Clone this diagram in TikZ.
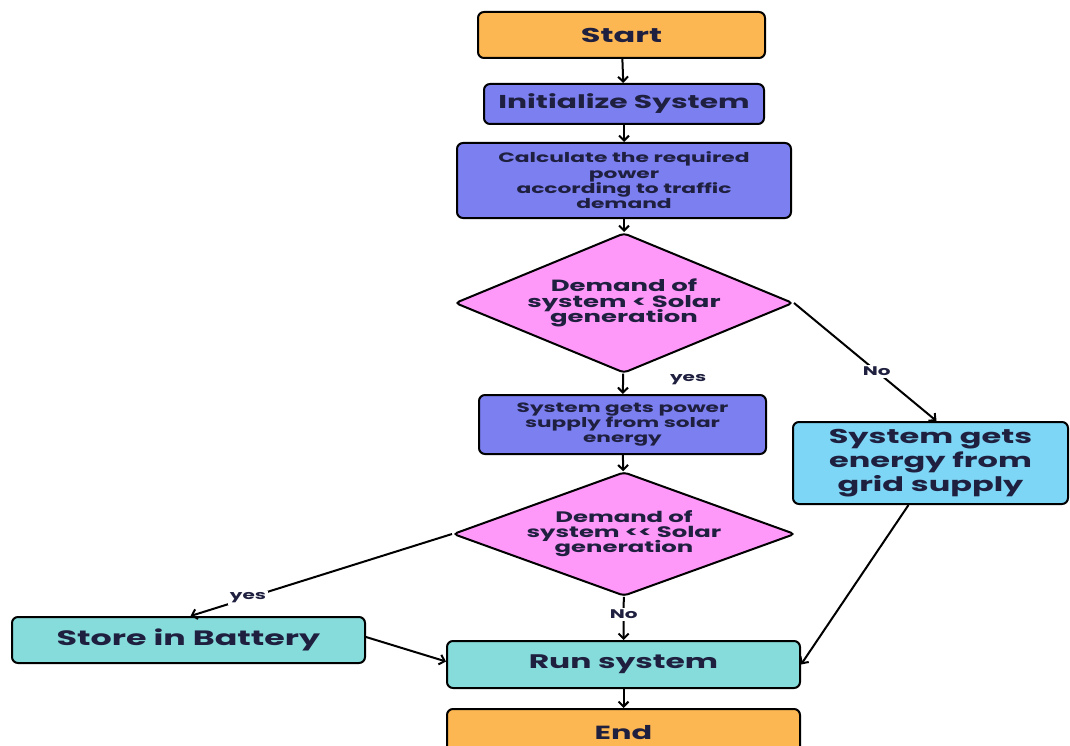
\documentclass[tikz,border=0pt]{standalone}
\usepackage{fontspec}
\setmainfont{Poppins}[FakeStretch=1.6]
\usetikzlibrary{shapes.geometric,arrows.meta}
\definecolor{cOrange}{HTML}{FDB752}
\definecolor{cBlue}{HTML}{7B7FF0}
\definecolor{cPink}{HTML}{FE98F9}
\definecolor{cSky}{HTML}{7DD6F5}
\definecolor{cTeal}{HTML}{86DCDA}
\definecolor{cText}{HTML}{1F1F3F}
\newcommand{\fs}[2]{\bfseries\fontsize{#1}{#2}\selectfont\lineskiplimit=-20pt\relax}
\tikzset{
  box/.style={draw=black, line width=2pt, rounded corners=6pt, align=center, text=cText, inner sep=2pt},
  dia/.style={draw=black, line width=2pt, diamond, rounded corners=4pt, inner sep=0pt, fill=cPink},
  diatext/.style={align=center, text=cText, inner sep=0pt},
  conn/.style={draw=black, line width=2pt, -{Straight Barb[length=5pt,width=10pt,line width=2pt]}},
  lbl/.style={font=\fs{12.5}{14}, text=cText, fill=white, inner sep=2pt}
}
\begin{document}
\begin{tikzpicture}[x=1pt,y=-1pt]
\useasboundingbox (0,0) rectangle (1070,746);
\node[box, fill=cOrange, minimum width=287, minimum height=46, font=\fs{20}{22}] (start) at (621.5,35) {Start};
\node[box, fill=cBlue, minimum width=280, minimum height=40, font=\fs{18.6}{20}] (init) at (624,104) {Initialize System};
\node[box, fill=cBlue, minimum width=334, minimum height=75, font=\fs{13.6}{15.3}] (calc) at (624,180.5) {Calculate the required\\power\\according to traffic\\demand};
\node[dia, minimum width=338, minimum height=140] (d1) at (624,303) {};
\node[diatext, font=\fs{16.2}{15.5}] (d1t) at (624,303) {Demand of\\system < Solar\\generation};
\node[box, fill=cBlue, minimum width=287, minimum height=59, font=\fs{13.5}{15}] (solar) at (622.5,424.5) {System gets power\\supply from solar\\energy};
\node[box, fill=cSky, minimum width=275, minimum height=82, font=\fs{20}{24}] (grid) at (930.5,463) {System gets\\energy from\\grid supply};
\node[dia, minimum width=342, minimum height=124] (d2) at (624,534) {};
\node[diatext, font=\fs{15.2}{15}] (d2t) at (624,534) {Demand of\\system {<}{<} Solar\\generation};
\node[box, fill=cTeal, minimum width=353, minimum height=46, font=\fs{20.8}{22}] (bat) at (188.5,640) {Store in Battery};
\node[box, fill=cTeal, minimum width=353, minimum height=47, font=\fs{19.6}{22}] (run) at (623.5,664.5) {Run system};
\node[box, fill=cOrange, minimum width=353, minimum height=47, font=\fs{19}{22}] (end) at (623.5,732.5) {End};
\draw[conn] (start) -- (init);
\draw[conn] (init) -- (calc);
\draw[conn] (calc) -- (d1);
\draw[conn] (d1) -- (solar) node[pos=0.3, anchor=west, xshift=44pt, lbl, fill=none] {yes};
\draw[conn] (d1.east) -- ([xshift=6]grid.north) node[pos=0.58, lbl] {No};
\draw[conn] (solar) -- (d2);
\draw[conn] (d2.west) -- ([xshift=2]bat.north) node[pos=0.78, lbl] {yes};
\draw[conn] (d2) -- (run) node[pos=0.4, lbl] {No};
\draw[conn] ([yshift=3]bat.east) -- ([yshift=3]run.west);
\draw[conn] ([xshift=-22]grid.south) -- (run.east);
\draw[conn] (run) -- (end);
\end{tikzpicture}
\end{document}
